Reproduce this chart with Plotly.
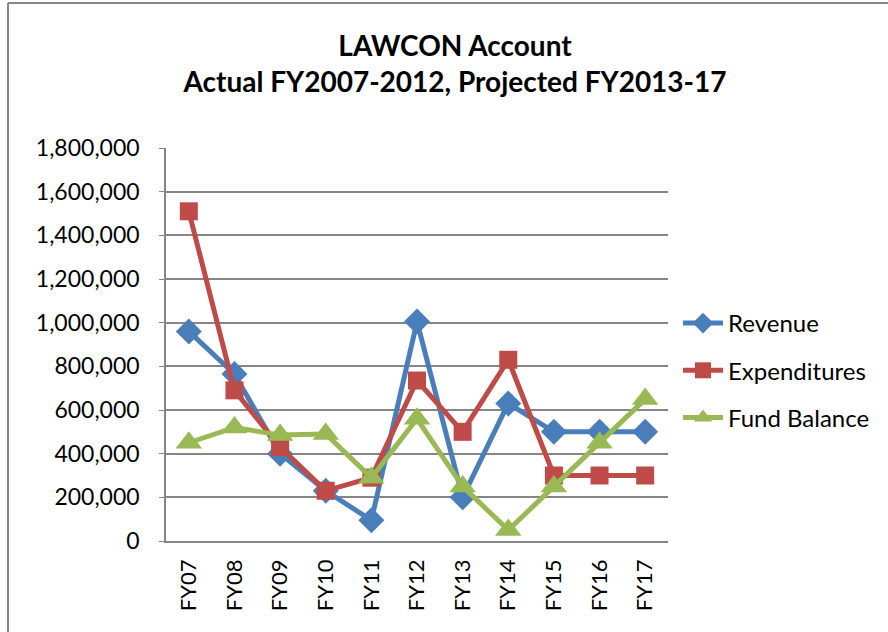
import plotly.graph_objects as go

categories = ["FY07", "FY08", "FY09", "FY10", "FY11", "FY12", "FY13", "FY14", "FY15", "FY16", "FY17"]
revenue = [960000, 765000, 400000, 230000, 95000, 1005000, 200000, 630000, 500000, 500000, 500000]
expenditures = [1510000, 690000, 430000, 230000, 290000, 735000, 500000, 830000, 300000, 300000, 300000]
fund_balance = [450000, 520000, 485000, 490000, 290000, 560000, 250000, 50000, 250000, 450000, 650000]
y_ticks = [0, 200000, 400000, 600000, 800000, 1000000, 1200000, 1400000, 1600000, 1800000]

FONT = "Lato"

fig = go.Figure()
series = [
    ("Revenue", revenue, "#4A7EBB", "diamond", 20),
    ("Expenditures", expenditures, "#BE4B48", "square", 18),
    ("Fund Balance", fund_balance, "#98B954", "triangle-up", 23),
]
for name, vals, color, sym, size in series:
    fig.add_trace(go.Scatter(
        x=categories, y=vals, name=name, mode="lines+markers",
        line=dict(color=color, width=5),
        marker=dict(symbol=sym, size=size, color=color),
        legendgroup=name,
    ))

L, R, T, B = 166, 220, 148, 91
W, H = 888, 632
pw = W - L - R
ph = H - T - B

fig.update_layout(
    width=W, height=H,
    margin=dict(l=L, r=R, t=T, b=B),
    paper_bgcolor="white", plot_bgcolor="white",
    font=dict(family=FONT, color="black", size=22),
    title=dict(
        text="<b>LAWCON Account</b><br><b>Actual FY2007-2012, Projected FY2013-17</b>",
        x=455 / W, xref="container", xanchor="center",
        y=1 - 56 / H, yref="container", yanchor="middle",
        font=dict(family=FONT, size=28, color="black"),
    ),
    showlegend=True,
    legend=dict(
        x=(678 - L) / pw, xanchor="left",
        y=(541 - 301) / ph, yanchor="top",
        font=dict(family=FONT, size=24, color="black"),
        tracegroupgap=13, itemwidth=40,
        bgcolor="rgba(0,0,0,0)",
    ),
    xaxis=dict(
        type="category", tickangle=-90,
        showgrid=False, showline=True, linecolor="#868686", linewidth=1.5,
        ticks="", ticklabelstandoff=8,
        tickfont=dict(family=FONT, size=22),
        range=[-0.5, len(categories) - 0.5],
    ),
    yaxis=dict(
        range=[0, 1800000], tickvals=y_ticks, tickformat=",d",
        showgrid=True, gridcolor="#868686", gridwidth=1.5,
        showline=True, linecolor="#868686", linewidth=1.5,
        ticks="outside", ticklen=5, tickcolor="#868686",
        ticklabelstandoff=15, zeroline=False,
        tickfont=dict(family=FONT, size=23),
    ),
    shapes=[
        dict(type="line", xref="paper", yref="paper",
             x0=(8 - L) / pw, x1=(W + 10 - L) / pw,
             y0=(H - B - 3) / ph, y1=(H - B - 3) / ph,
             line=dict(color="#868686", width=2)),
        dict(type="line", xref="paper", yref="paper",
             x0=(8 - L) / pw, x1=(8 - L) / pw,
             y0=(H - B - 3) / ph, y1=-(B + 10) / ph,
             line=dict(color="#868686", width=2)),
    ],
)

fig.write_html(
    "out.html",
    config={"displayModeBar": False},
    post_script="document.body.style.margin='0px';document.body.style.overflow='hidden';",
)
